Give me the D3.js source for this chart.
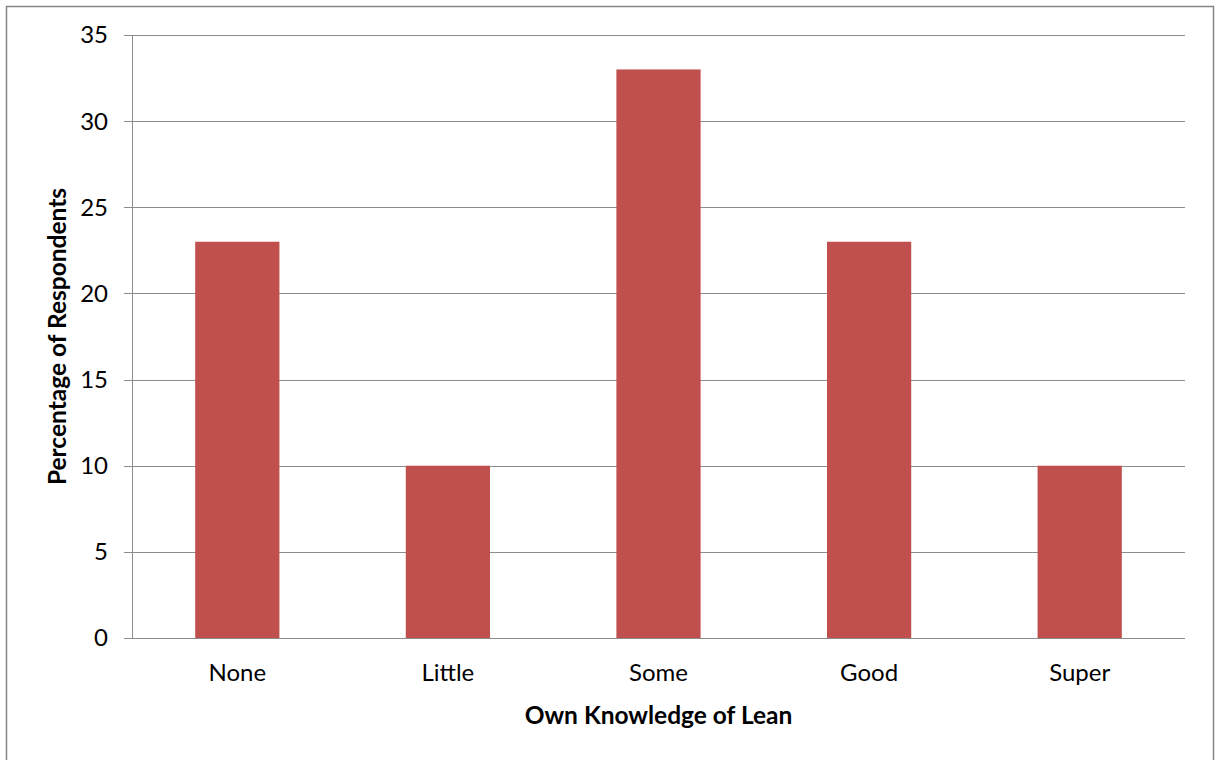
<!DOCTYPE html>
<html>
<head>
<meta charset="utf-8">
<script src="https://cdn.jsdelivr.net/npm/d3@7"></script>
<style>
  html, body { margin: 0; padding: 0; background: #fff; }
  svg { display: block; }
</style>
</head>
<body>
<svg id="chart" width="1215" height="760"></svg>
<script>
// Knowledge levels and share of respondents (%)
const categories = ["None", "Little", "Some", "Good", "Super"];
const values = [23, 10, 33, 23, 10];
const yTicks = [0, 5, 10, 15, 20, 25, 30, 35];

const svg = d3.select("#chart");
const W = 1215, H = 760;
const margin = { left: 132, right: 30, top: 35, bottom: 122 };
const font = "Lato, 'Open Sans', 'Liberation Sans', sans-serif";

// chart frame
svg.append("rect")
  .attr("x", 6.5).attr("y", 6.5)
  .attr("width", 1207).attr("height", 800)
  .attr("fill", "#fff")
  .attr("stroke", "#858585").attr("stroke-width", 1.5);

const x = d3.scaleBand()
  .domain(categories)
  .range([margin.left, W - margin.right])
  .paddingInner(0.6).paddingOuter(0.3);

const y = d3.scaleLinear()
  .domain([0, 35])
  .range([H - margin.bottom, margin.top]);

// horizontal gridlines
svg.append("g")
  .selectAll("line")
  .data(yTicks)
  .join("line")
  .attr("x1", margin.left - 8)
  .attr("x2", W - margin.right)
  .attr("y1", d => Math.round(y(d)) + 0.5)
  .attr("y2", d => Math.round(y(d)) + 0.5)
  .attr("stroke", "#8c8c8c")
  .attr("stroke-width", 1);

// y axis line
svg.append("line")
  .attr("x1", margin.left + 0.5).attr("x2", margin.left + 0.5)
  .attr("y1", y(35)).attr("y2", y(0))
  .attr("stroke", "#8c8c8c");

// y tick labels
svg.append("g")
  .selectAll("text")
  .data(yTicks)
  .join("text")
  .attr("x", 108)
  .attr("y", d => y(d))
  .attr("dy", "0.35em")
  .attr("text-anchor", "end")
  .attr("font-family", font)
  .attr("font-size", 24)
  .attr("fill", "#000")
  .text(d => d);

// bars
svg.append("g")
  .selectAll("rect")
  .data(values)
  .join("rect")
  .attr("x", (d, i) => x(categories[i]))
  .attr("width", x.bandwidth())
  .attr("y", d => y(d))
  .attr("height", d => y(0) - y(d))
  .attr("fill", "#C0504D");

// x category labels
svg.append("g")
  .selectAll("text")
  .data(categories)
  .join("text")
  .attr("x", d => x(d) + x.bandwidth() / 2)
  .attr("y", 681)
  .attr("text-anchor", "middle")
  .attr("font-family", font)
  .attr("font-size", 24)
  .attr("fill", "#000")
  .text(d => d);

// axis titles
svg.append("text")
  .attr("x", (margin.left + W - margin.right) / 2)
  .attr("y", 724)
  .attr("text-anchor", "middle")
  .attr("font-family", font)
  .attr("font-weight", "bold")
  .attr("font-size", 24.5)
  .text("Own Knowledge of Lean");

svg.append("text")
  .attr("transform", `translate(66, ${(y(0) + y(35)) / 2}) rotate(-90)`)
  .attr("text-anchor", "middle")
  .attr("font-family", font)
  .attr("font-weight", "bold")
  .attr("font-size", 24.5)
  .text("Percentage of Respondents");
</script>
</body>
</html>
